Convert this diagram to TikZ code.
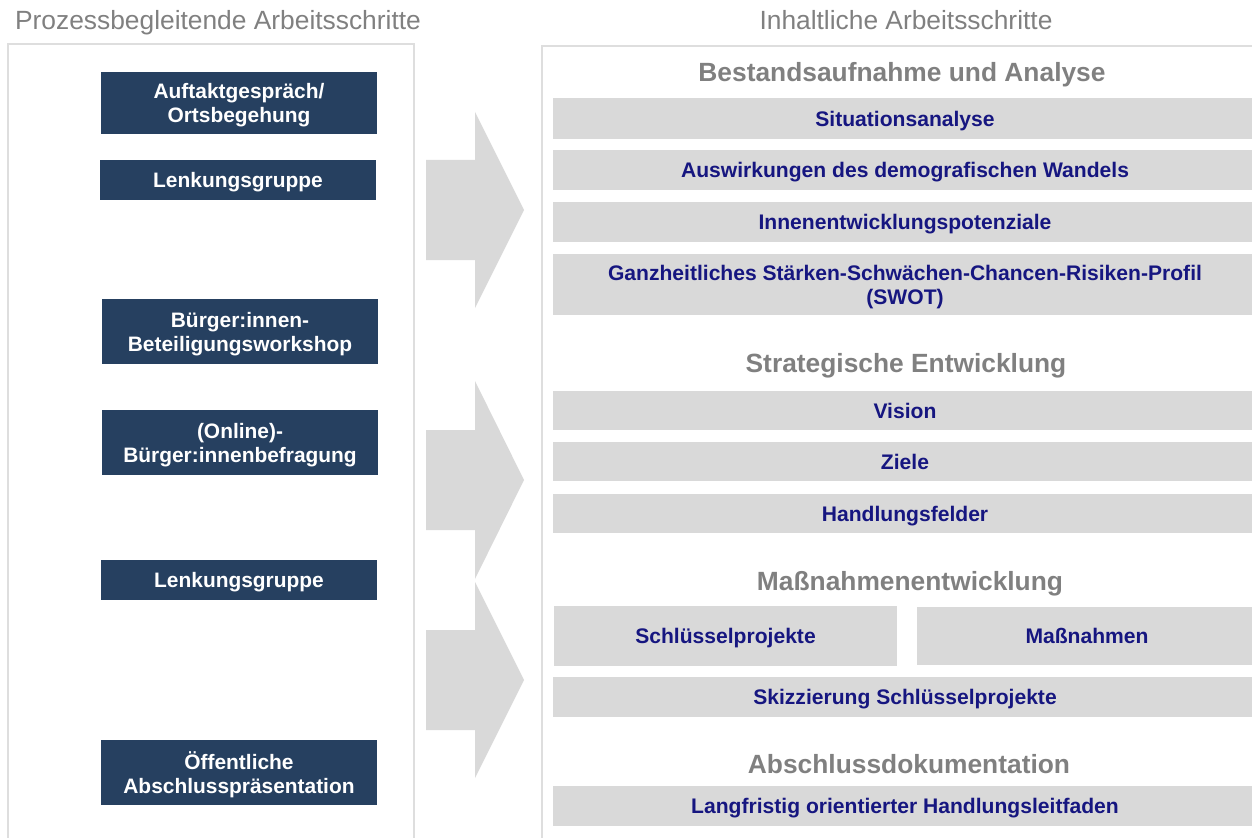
\documentclass[tikz,border=0pt]{standalone}
\usepackage{fontspec}
\setmainfont{Liberation Sans}
\usepackage{xcolor}
\definecolor{processblue}{RGB}{38, 64, 96}
\definecolor{bargray}{RGB}{217, 217, 217}
\definecolor{panelgray}{RGB}{222, 222, 222}
\definecolor{headgray}{RGB}{128, 128, 128}
\definecolor{contentnavy}{RGB}{22, 22, 128}

\begin{document}
\begin{tikzpicture}[
    x=0.02cm, y=-0.02cm,
    stepbox/.style={
      rectangle,
      fill=processblue,
      text=white,
      minimum width=5.52cm,
      minimum height=1.3cm,
      inner sep=0pt,
      text depth=0pt,
      align=center,
      font=\bfseries\fontsize{11.9}{13.7}\selectfont
    },
    contentbar/.style={
      rectangle,
      fill=bargray,
      text=contentnavy,
      minimum width=14.08cm,
      minimum height=0.8cm,
      inner sep=0pt,
      text depth=0pt,
      align=center,
      font=\bfseries\fontsize{12}{13.7}\selectfont
    },
    phase/.style={anchor=base, text=headgray, font=\bfseries\fontsize{15}{18}\selectfont},
    coltitle/.style={anchor=base, text=headgray, font=\fontsize{15}{18}\selectfont},
    panel/.style={draw=panelgray, line width=0.8pt},
    bigarrow/.style={fill=bargray}
  ]
    \useasboundingbox (0,0) rectangle (1252,838);

    % panels
    \draw[panel] (8,860) -- (8,44) -- (414,44) -- (414,860);
    \draw[panel] (542,860) -- (542,46) -- (1270,46);
    \node[coltitle] (lefttitle) at (218,30) {Prozessbegleitende Arbeitsschritte};
    \node[coltitle] (righttitle) at (906,30) {Inhaltliche Arbeitsschritte};

    % accompanying steps
    \node[stepbox, minimum height=1.24cm] (kickoff) at (239,103) {Auftaktgespräch/\\Ortsbegehung};
    \node[stepbox, minimum height=0.8cm] (steer1) at (238,180) {Lenkungsgruppe};
    \node[stepbox] (workshop) at (240,331.5) {Bürger:innen-\\Beteiligungsworkshop};
    \node[stepbox] (survey) at (240,442.5) {(Online)-\\Bürger:innenbefragung};
    \node[stepbox, minimum height=0.8cm] (steer2) at (239,580) {Lenkungsgruppe};
    \node[stepbox] (closing) at (239,772.5) {Öffentliche\\Abschlusspräsentation};

    % big arrows
    \fill[bigarrow] (426,160) -- (475,160) -- (475,112) -- (524,210) -- (475,308) -- (475,260) -- (426,260) -- cycle;
    \fill[bigarrow] (426,430) -- (475,430) -- (475,381) -- (524,480) -- (475,579) -- (475,530) -- (426,530) -- cycle;
    \fill[bigarrow] (426,630) -- (475,630) -- (475,582) -- (524,680) -- (475,778) -- (475,730) -- (426,730) -- cycle;

    % content steps
    \node[phase] (analysis) at (902,82) {Bestandsaufnahme und Analyse};
    \node[contentbar, minimum height=0.82cm] (situation) at (905,118.5) {Situationsanalyse};
    \node[contentbar] (demography) at (905,170) {Auswirkungen des demografischen Wandels};
    \node[contentbar] (inner) at (905,222) {Innenentwicklungspotenziale};
    \node[contentbar, minimum height=1.22cm] (swot) at (905,284.5) {Ganzheitliches Stärken-Schwächen-Chancen-Risiken-Profil\\(SWOT)};

    \node[phase] (strategy) at (906,372) {Strategische Entwicklung};
    \node[contentbar, minimum height=0.78cm] (vision) at (905,410.5) {Vision};
    \node[contentbar, minimum height=0.78cm] (goals) at (905,461.5) {Ziele};
    \node[contentbar, minimum height=0.78cm] (fields) at (905,513.5) {Handlungsfelder};

    \node[phase] (measures) at (910,590) {Maßnahmenentwicklung};
    \node[contentbar, minimum width=6.86cm, minimum height=1.2cm] (keyproj) at (725.5,636) {Schlüsselprojekte};
    \node[contentbar, minimum width=6.8cm, minimum height=1.16cm] (measurelist) at (1087,636) {Maßnahmen};
    \node[contentbar] (sketch) at (905,697) {Skizzierung Schlüsselprojekte};

    \node[phase] (docu) at (909,773) {Abschlussdokumentation};
    \node[contentbar] (guide) at (905,806) {Langfristig orientierter Handlungsleitfaden};
  \end{tikzpicture}
\end{document}
